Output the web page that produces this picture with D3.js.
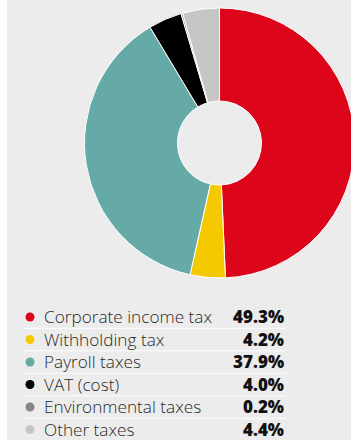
<!DOCTYPE html>
<html>
<head>
<meta charset="utf-8">
<script src="https://cdn.jsdelivr.net/npm/d3@7"></script>
<style>
html, body { margin: 0; padding: 0; background: #fff; }
svg { display: block; }
</style>
</head>
<body>
<script>
var categories = ['Corporate income tax', 'Withholding tax', 'Payroll taxes', 'VAT (cost)', 'Environmental taxes', 'Other taxes'];
var values = [49.3, 4.2, 37.9, 4.0, 0.2, 4.4];
var colors = ['#dc0519', '#f5c900', '#66aaa7', '#000000', '#868686', '#c5c6c5'];

var width = 351, height = 440;
var svg = d3.select('body').append('svg')
	.attr('width', width)
	.attr('height', height);

// grey panel
svg.append('rect')
	.attr('x', 7).attr('y', 0)
	.attr('width', width - 7).attr('height', height)
	.attr('fill', '#ececec');

var data = categories.map(function(c, i) { return {name: c, value: values[i], color: colors[i]}; });

var pie = d3.pie().sort(null).value(function(d) { return d.value; });
var arc = d3.arc().innerRadius(42).outerRadius(135);

var g = svg.append('g').attr('transform', 'translate(219.5,143)');
g.selectAll('path')
	.data(pie(data))
	.enter().append('path')
	.attr('d', arc)
	.attr('fill', function(d) { return d.data.color; })
	.attr('stroke', '#fff')
	.attr('stroke-width', 1);

// legend
var rowY = d3.scalePoint().domain(categories).range([317, 429.5]);
var legend = svg.append('g');
var rows = legend.selectAll('g.row')
	.data(data)
	.enter().append('g')
	.attr('class', 'row')
	.attr('transform', function(d) { return 'translate(0,' + rowY(d.name) + ')'; });

rows.append('circle')
	.attr('cx', 30).attr('cy', 0).attr('r', 4.5)
	.attr('fill', function(d) { return d.color; });

rows.append('text')
	.attr('x', 44).attr('y', 0)
	.attr('dy', '0.36em')
	.attr('font-family', '"Open Sans", sans-serif')
	.attr('font-weight', 300)
	.attr('font-size', '17.2px')
	.attr('fill', '#2a2a2a')
	.text(function(d) { return d.name; });

rows.append('text')
	.attr('x', 284).attr('y', 0)
	.attr('dy', '0.36em')
	.attr('text-anchor', 'end')
	.attr('font-family', '"Open Sans", sans-serif')
	.attr('font-weight', 800)
	.attr('font-size', '17px')
	.attr('fill', '#111')
	.text(function(d) { return d3.format('.1f')(d.value) + '%'; });

rows.filter(function(d, i) { return i < categories.length - 1; })
	.append('line')
	.attr('x1', 23).attr('x2', 286)
	.attr('y1', 11.3).attr('y2', 11.3)
	.attr('stroke', '#fff')
	.attr('stroke-width', 1);
</script>
</body>
</html>
